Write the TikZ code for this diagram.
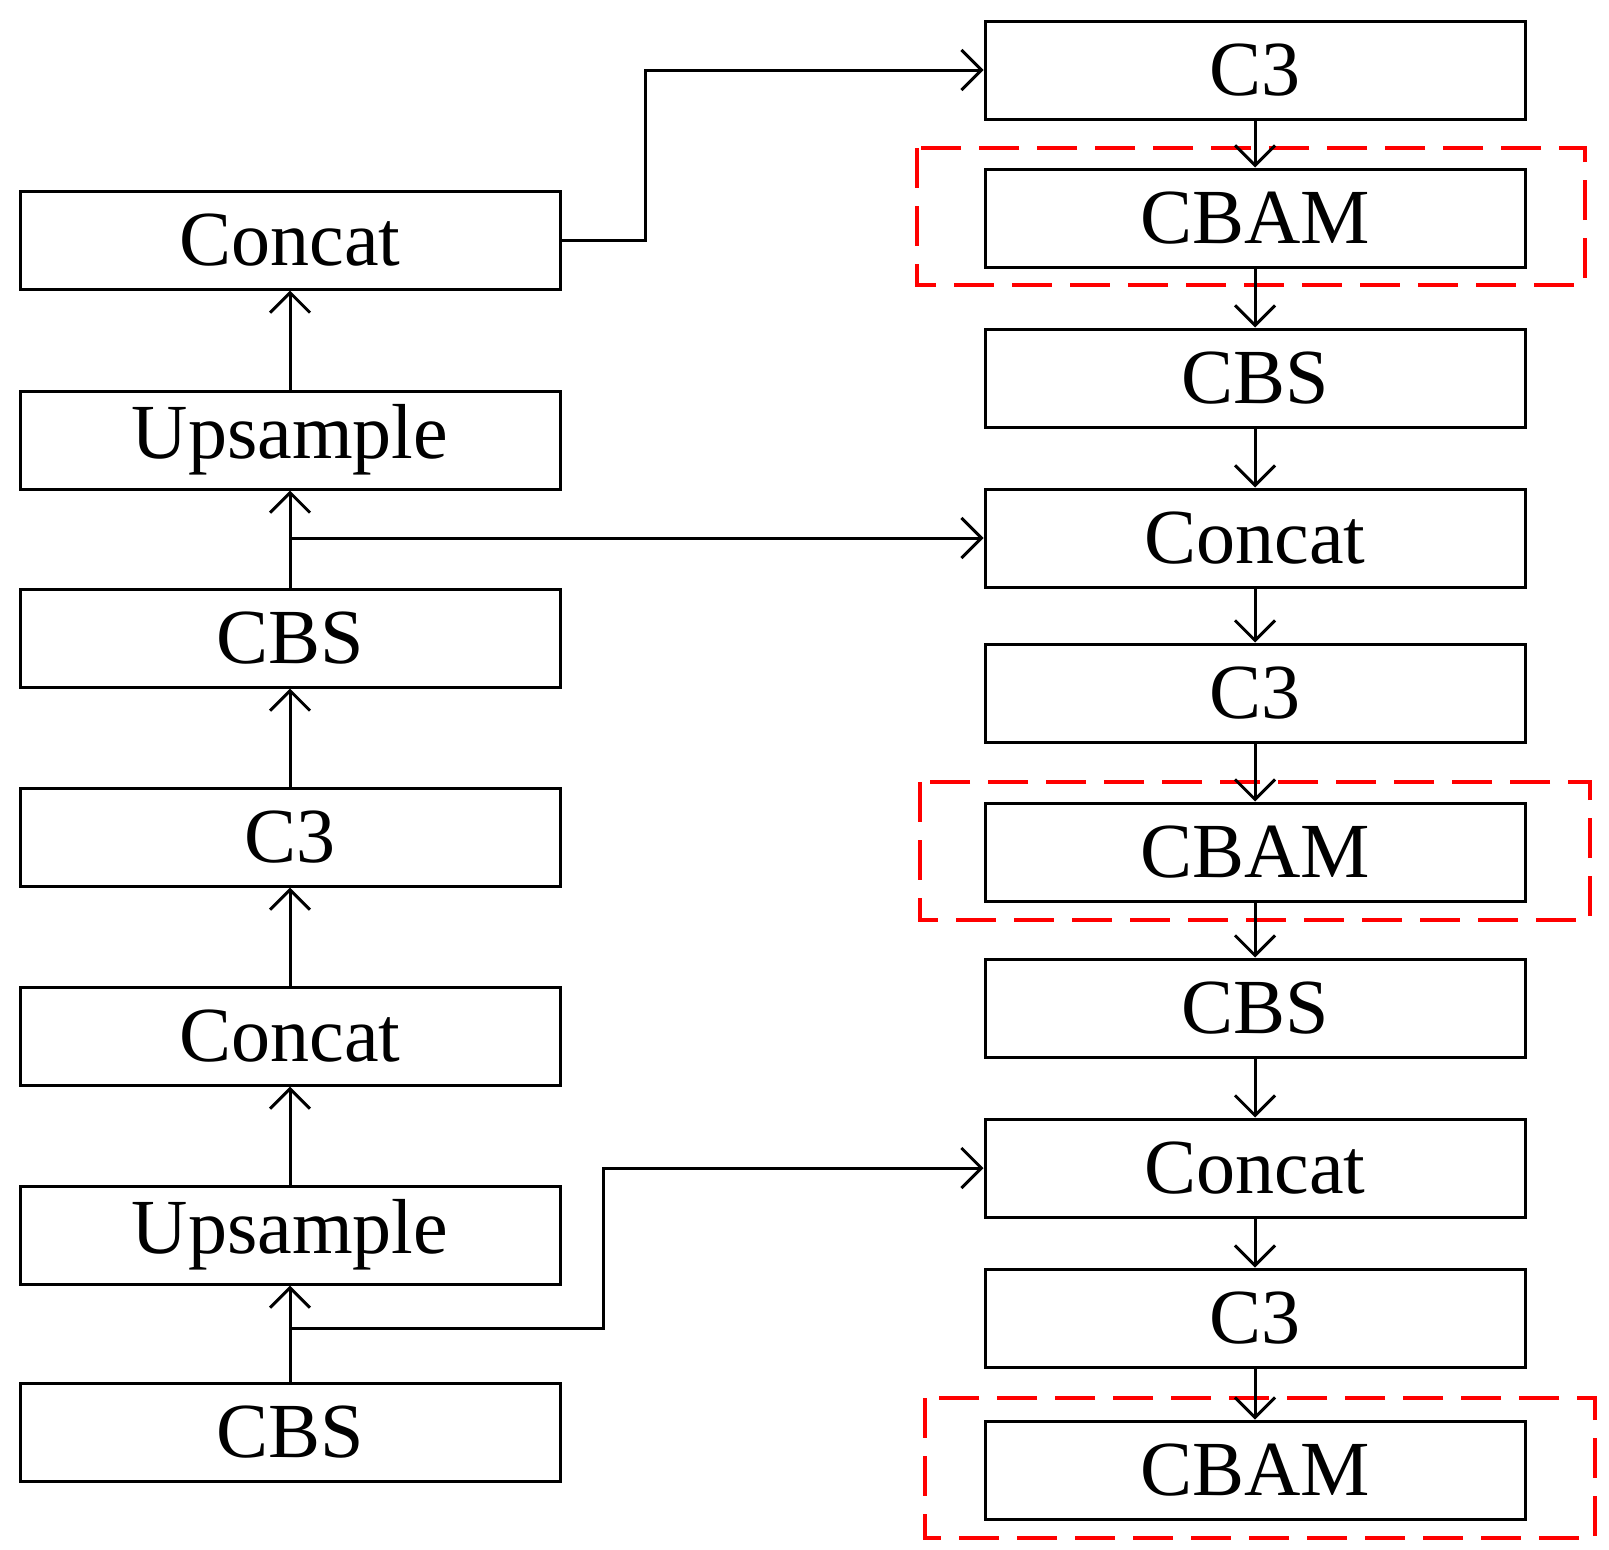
\documentclass[tikz,border=0pt]{standalone}
\usepackage{fontspec}
\setmainfont{Liberation Serif}
\usetikzlibrary{arrows.meta}
\begin{document}
\begin{tikzpicture}[x=1pt,y=-1pt,
 box/.style={draw,line width=3pt,minimum width=540pt,minimum height=98pt,inner sep=0pt,font=\fontsize{78}{80}\selectfont},
 arr/.style={line width=3pt,-{Straight Barb[length=20pt,width=40pt,line width=3pt]}},
 red/.style={draw=red,line width=4pt,dash pattern=on 40pt off 18pt}]
\useasboundingbox (0,0) rectangle (1609,1550);
\node[box] (l1) at (290,240) {Concat};
\node[box] (l2) at (290,440) {Upsample};
\node[box] (l3) at (290,638) {CBS};
\node[box] (l4) at (290,837) {C3};
\node[box] (l5) at (290,1036) {Concat};
\node[box] (l6) at (290,1235) {Upsample};
\node[box] (l7) at (290,1432) {CBS};
\node[box] (r1) at (1255,70) {C3};
\node[box] (r2) at (1255,218) {CBAM};
\node[box] (r3) at (1255,378) {CBS};
\node[box] (r4) at (1255,538) {Concat};
\node[box] (r5) at (1255,693) {C3};
\node[box] (r6) at (1255,852) {CBAM};
\node[box] (r7) at (1255,1008) {CBS};
\node[box] (r8) at (1255,1168) {Concat};
\node[box] (r9) at (1255,1318) {C3};
\node[box] (r10) at (1255,1470) {CBAM};
\draw[red] (917,148) rectangle (1585,285);
\draw[red] (920,782) rectangle (1590,920);
\draw[red] (925,1398) rectangle (1595,1538);
\foreach \a/\b in {l7/l6,l6/l5,l5/l4,l4/l3,l3/l2,l2/l1}
  \draw[arr] (\a.north) -- (\b.south);
\foreach \a/\b in {r1/r2,r2/r3,r3/r4,r4/r5,r5/r6,r6/r7,r7/r8,r8/r9,r9/r10}
  \draw[arr] (\a.south) -- (\b.north);
\coordinate (j1) at (290,538);
\coordinate (j2) at (290,1328);
\draw[arr] (l1.east) -- (645,240) -- (645,70) -- (r1.west);
\draw[arr] (j1) -- (r4.west);
\draw[arr] (j2) -- (603,1328) -- (603,1168) -- (r8.west);
\end{tikzpicture}
\end{document}
